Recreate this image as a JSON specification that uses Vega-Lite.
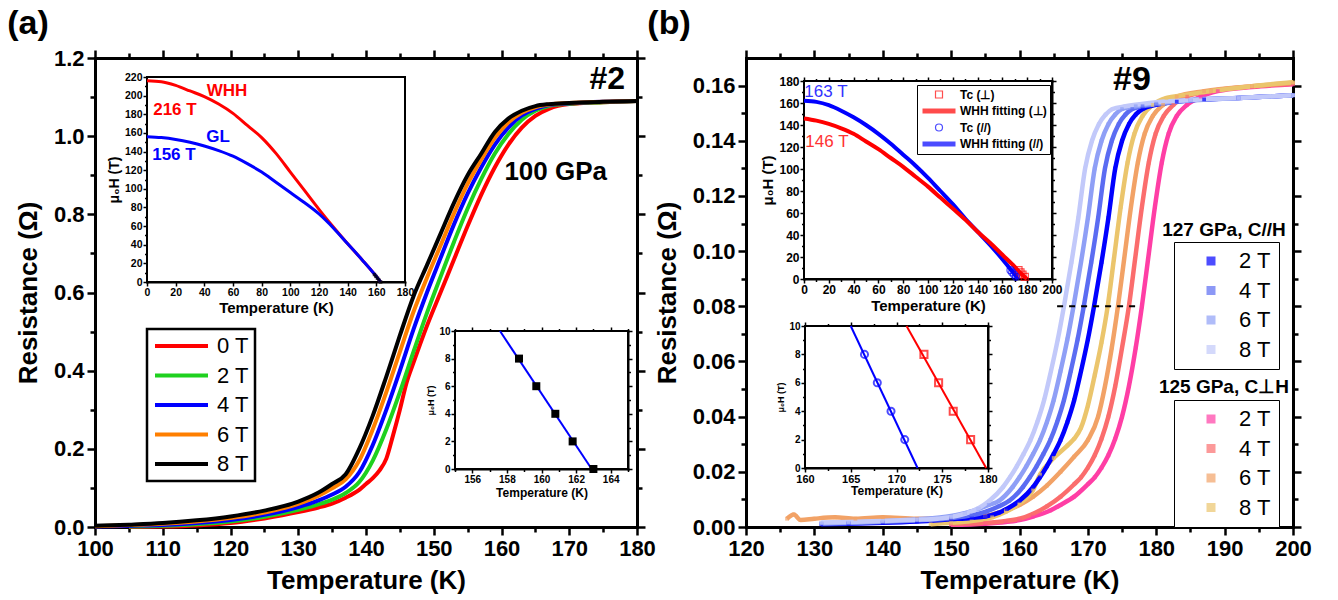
{
"$schema":"https://vega.github.io/schema/vega-lite/v6.json",
"width":1338,"height":600,"autosize":{"type":"none"},"padding":0,"background":"white",
"config":{"view":{"stroke":null},"font":"Liberation Sans",
"axis":{"domainColor":"#000","domainWidth":3,"tickColor":"#000","tickWidth":2.5,"labelColor":"#000","titleColor":"#000","labelFont":"Liberation Sans","titleFont":"Liberation Sans","labelFontWeight":"bold","titleFontWeight":"bold","grid":false,"zindex":1,"labelFlush":false,"labelOverlap":false,"domainCap":"square"},
"legend":{"labelFont":"Liberation Sans","labelColor":"#000"}},
"resolve":{"scale":{"x":"independent","y":"independent","color":"independent","shape":"independent","size":"independent","strokeWidth":"independent"},"axis":{"x":"independent","y":"independent"}},
"datasets":{
"a":[
{"f":"0 T","T":105,"R":0},{"f":"0 T","T":110,"R":0.001},{"f":"0 T","T":115,"R":0.004},{"f":"0 T","T":120,"R":0.01},{"f":"0 T","T":125,"R":0.022},{"f":"0 T","T":130,"R":0.038},{"f":"0 T","T":133,"R":0.05},{"f":"0 T","T":135,"R":0.06},{"f":"0 T","T":137,"R":0.075},{"f":"0 T","T":139,"R":0.095},{"f":"0 T","T":140,"R":0.11},{"f":"0 T","T":141,"R":0.125},{"f":"0 T","T":142,"R":0.145},{"f":"0 T","T":143,"R":0.175},{"f":"0 T","T":144,"R":0.235},{"f":"0 T","T":145,"R":0.3},{"f":"0 T","T":146,"R":0.37},{"f":"0 T","T":147,"R":0.42},{"f":"0 T","T":149,"R":0.515},{"f":"0 T","T":151,"R":0.6},{"f":"0 T","T":153,"R":0.685},{"f":"0 T","T":155,"R":0.77},{"f":"0 T","T":157,"R":0.85},{"f":"0 T","T":159,"R":0.92},{"f":"0 T","T":161,"R":0.978},{"f":"0 T","T":163,"R":1.022},{"f":"0 T","T":165,"R":1.052},{"f":"0 T","T":167,"R":1.07},{"f":"0 T","T":170,"R":1.082},{"f":"0 T","T":175,"R":1.087},{"f":"0 T","T":180,"R":1.09},
{"f":"2 T","T":105,"R":0.001},{"f":"2 T","T":110,"R":0.003},{"f":"2 T","T":115,"R":0.007},{"f":"2 T","T":120,"R":0.014},{"f":"2 T","T":125,"R":0.026},{"f":"2 T","T":130,"R":0.044},{"f":"2 T","T":133,"R":0.058},{"f":"2 T","T":135,"R":0.07},{"f":"2 T","T":137,"R":0.087},{"f":"2 T","T":139,"R":0.115},{"f":"2 T","T":141,"R":0.17},{"f":"2 T","T":143,"R":0.25},{"f":"2 T","T":145,"R":0.345},{"f":"2 T","T":147,"R":0.448},{"f":"2 T","T":149,"R":0.548},{"f":"2 T","T":151,"R":0.64},{"f":"2 T","T":153,"R":0.73},{"f":"2 T","T":155,"R":0.815},{"f":"2 T","T":157,"R":0.89},{"f":"2 T","T":159,"R":0.955},{"f":"2 T","T":161,"R":1.005},{"f":"2 T","T":163,"R":1.042},{"f":"2 T","T":165,"R":1.065},{"f":"2 T","T":167,"R":1.077},{"f":"2 T","T":170,"R":1.083},{"f":"2 T","T":175,"R":1.087},{"f":"2 T","T":180,"R":1.09},
{"f":"4 T","T":100,"R":0.001},{"f":"4 T","T":105,"R":0.003},{"f":"4 T","T":110,"R":0.005},{"f":"4 T","T":115,"R":0.01},{"f":"4 T","T":120,"R":0.018},{"f":"4 T","T":125,"R":0.031},{"f":"4 T","T":130,"R":0.051},{"f":"4 T","T":133,"R":0.068},{"f":"4 T","T":135,"R":0.083},{"f":"4 T","T":137,"R":0.103},{"f":"4 T","T":139,"R":0.14},{"f":"4 T","T":141,"R":0.21},{"f":"4 T","T":143,"R":0.3},{"f":"4 T","T":145,"R":0.4},{"f":"4 T","T":147,"R":0.505},{"f":"4 T","T":149,"R":0.6},{"f":"4 T","T":151,"R":0.688},{"f":"4 T","T":153,"R":0.775},{"f":"4 T","T":155,"R":0.853},{"f":"4 T","T":157,"R":0.92},{"f":"4 T","T":159,"R":0.978},{"f":"4 T","T":161,"R":1.022},{"f":"4 T","T":163,"R":1.053},{"f":"4 T","T":165,"R":1.07},{"f":"4 T","T":167,"R":1.08},{"f":"4 T","T":170,"R":1.084},{"f":"4 T","T":175,"R":1.088},{"f":"4 T","T":180,"R":1.09},
{"f":"6 T","T":100,"R":0.002},{"f":"6 T","T":105,"R":0.005},{"f":"6 T","T":110,"R":0.008},{"f":"6 T","T":115,"R":0.014},{"f":"6 T","T":120,"R":0.023},{"f":"6 T","T":125,"R":0.037},{"f":"6 T","T":130,"R":0.059},{"f":"6 T","T":133,"R":0.08},{"f":"6 T","T":135,"R":0.099},{"f":"6 T","T":137,"R":0.122},{"f":"6 T","T":139,"R":0.17},{"f":"6 T","T":141,"R":0.25},{"f":"6 T","T":143,"R":0.345},{"f":"6 T","T":145,"R":0.448},{"f":"6 T","T":147,"R":0.55},{"f":"6 T","T":149,"R":0.638},{"f":"6 T","T":151,"R":0.72},{"f":"6 T","T":153,"R":0.803},{"f":"6 T","T":155,"R":0.878},{"f":"6 T","T":157,"R":0.94},{"f":"6 T","T":159,"R":0.995},{"f":"6 T","T":161,"R":1.035},{"f":"6 T","T":163,"R":1.06},{"f":"6 T","T":165,"R":1.074},{"f":"6 T","T":167,"R":1.081},{"f":"6 T","T":170,"R":1.085},{"f":"6 T","T":175,"R":1.088},{"f":"6 T","T":180,"R":1.09},
{"f":"8 T","T":100,"R":0.003},{"f":"8 T","T":105,"R":0.006},{"f":"8 T","T":110,"R":0.01},{"f":"8 T","T":115,"R":0.017},{"f":"8 T","T":120,"R":0.027},{"f":"8 T","T":125,"R":0.042},{"f":"8 T","T":130,"R":0.065},{"f":"8 T","T":133,"R":0.088},{"f":"8 T","T":135,"R":0.11},{"f":"8 T","T":137,"R":0.135},{"f":"8 T","T":139,"R":0.2},{"f":"8 T","T":141,"R":0.285},{"f":"8 T","T":143,"R":0.385},{"f":"8 T","T":145,"R":0.49},{"f":"8 T","T":147,"R":0.59},{"f":"8 T","T":149,"R":0.67},{"f":"8 T","T":151,"R":0.75},{"f":"8 T","T":153,"R":0.83},{"f":"8 T","T":155,"R":0.9},{"f":"8 T","T":157,"R":0.955},{"f":"8 T","T":159,"R":1.01},{"f":"8 T","T":161,"R":1.045},{"f":"8 T","T":163,"R":1.065},{"f":"8 T","T":165,"R":1.077},{"f":"8 T","T":167,"R":1.082},{"f":"8 T","T":170,"R":1.085},{"f":"8 T","T":175,"R":1.088},{"f":"8 T","T":180,"R":1.09}
],
"bb":[
{"f":"2 T","T":131,"R":0.001},{"f":"2 T","T":135,"R":0.0012},{"f":"2 T","T":140,"R":0.0015},{"f":"2 T","T":145,"R":0.002},{"f":"2 T","T":150,"R":0.0028},{"f":"2 T","T":153,"R":0.0033},{"f":"2 T","T":155,"R":0.0038},{"f":"2 T","T":157,"R":0.0052},{"f":"2 T","T":158.1,"R":0.0065},{"f":"2 T","T":160,"R":0.0095},{"f":"2 T","T":162,"R":0.0145},{"f":"2 T","T":163,"R":0.018},{"f":"2 T","T":164,"R":0.022},{"f":"2 T","T":165,"R":0.0265},{"f":"2 T","T":166,"R":0.0315},{"f":"2 T","T":167,"R":0.038},{"f":"2 T","T":168,"R":0.046},{"f":"2 T","T":169,"R":0.0565},{"f":"2 T","T":170,"R":0.068},{"f":"2 T","T":170.9,"R":0.08},{"f":"2 T","T":172,"R":0.096},{"f":"2 T","T":173,"R":0.112},{"f":"2 T","T":174,"R":0.13},{"f":"2 T","T":175,"R":0.14},{"f":"2 T","T":176,"R":0.146},{"f":"2 T","T":177,"R":0.1495},{"f":"2 T","T":178,"R":0.1515},{"f":"2 T","T":180,"R":0.153},{"f":"2 T","T":183,"R":0.1542},{"f":"2 T","T":187,"R":0.155},{"f":"2 T","T":192,"R":0.1555},{"f":"2 T","T":200,"R":0.1565},
{"f":"4 T","T":131,"R":0.0012},{"f":"4 T","T":135,"R":0.0014},{"f":"4 T","T":140,"R":0.0018},{"f":"4 T","T":145,"R":0.0024},{"f":"4 T","T":150,"R":0.0032},{"f":"4 T","T":153,"R":0.0042},{"f":"4 T","T":155,"R":0.0055},{"f":"4 T","T":157,"R":0.0075},{"f":"4 T","T":158.5,"R":0.0095},{"f":"4 T","T":160.5,"R":0.0145},{"f":"4 T","T":161.5,"R":0.018},{"f":"4 T","T":162.5,"R":0.022},{"f":"4 T","T":163.5,"R":0.0265},{"f":"4 T","T":164.5,"R":0.0315},{"f":"4 T","T":165.5,"R":0.038},{"f":"4 T","T":166.5,"R":0.046},{"f":"4 T","T":167.5,"R":0.0565},{"f":"4 T","T":168.5,"R":0.068},{"f":"4 T","T":169.4,"R":0.08},{"f":"4 T","T":170.5,"R":0.096},{"f":"4 T","T":171.5,"R":0.112},{"f":"4 T","T":172.5,"R":0.13},{"f":"4 T","T":173.5,"R":0.14},{"f":"4 T","T":174.5,"R":0.146},{"f":"4 T","T":175.5,"R":0.1495},{"f":"4 T","T":176.5,"R":0.1515},{"f":"4 T","T":178,"R":0.1525},{"f":"4 T","T":180,"R":0.1532},{"f":"4 T","T":185,"R":0.1546},{"f":"4 T","T":192,"R":0.1555},{"f":"4 T","T":200,"R":0.1565},
{"f":"6 T","T":131,"R":0.0014},{"f":"6 T","T":135,"R":0.0016},{"f":"6 T","T":140,"R":0.0021},{"f":"6 T","T":145,"R":0.0028},{"f":"6 T","T":150,"R":0.004},{"f":"6 T","T":152,"R":0.005},{"f":"6 T","T":154,"R":0.0066},{"f":"6 T","T":155.5,"R":0.008},{"f":"6 T","T":157,"R":0.0095},{"f":"6 T","T":159,"R":0.0145},{"f":"6 T","T":160,"R":0.018},{"f":"6 T","T":161,"R":0.022},{"f":"6 T","T":162,"R":0.0265},{"f":"6 T","T":163,"R":0.0315},{"f":"6 T","T":164,"R":0.038},{"f":"6 T","T":165,"R":0.046},{"f":"6 T","T":166,"R":0.0565},{"f":"6 T","T":167,"R":0.068},{"f":"6 T","T":167.9,"R":0.08},{"f":"6 T","T":169,"R":0.096},{"f":"6 T","T":170,"R":0.112},{"f":"6 T","T":171,"R":0.13},{"f":"6 T","T":172,"R":0.14},{"f":"6 T","T":173,"R":0.146},{"f":"6 T","T":174,"R":0.1495},{"f":"6 T","T":175,"R":0.1515},{"f":"6 T","T":177,"R":0.1525},{"f":"6 T","T":180,"R":0.1535},{"f":"6 T","T":185,"R":0.1548},{"f":"6 T","T":192,"R":0.1555},{"f":"6 T","T":200,"R":0.1565},
{"f":"8 T","T":131,"R":0.0016},{"f":"8 T","T":135,"R":0.0018},{"f":"8 T","T":140,"R":0.0022},{"f":"8 T","T":145,"R":0.0026},{"f":"8 T","T":148,"R":0.003},{"f":"8 T","T":150,"R":0.0036},{"f":"8 T","T":152,"R":0.0048},{"f":"8 T","T":154,"R":0.0068},{"f":"8 T","T":155.6,"R":0.0095},{"f":"8 T","T":157.6,"R":0.0145},{"f":"8 T","T":158.6,"R":0.018},{"f":"8 T","T":159.6,"R":0.022},{"f":"8 T","T":160.6,"R":0.0265},{"f":"8 T","T":161.6,"R":0.0315},{"f":"8 T","T":162.6,"R":0.038},{"f":"8 T","T":163.6,"R":0.046},{"f":"8 T","T":164.6,"R":0.0565},{"f":"8 T","T":165.6,"R":0.068},{"f":"8 T","T":166.5,"R":0.08},{"f":"8 T","T":167.6,"R":0.096},{"f":"8 T","T":168.6,"R":0.112},{"f":"8 T","T":169.6,"R":0.13},{"f":"8 T","T":170.6,"R":0.14},{"f":"8 T","T":171.6,"R":0.146},{"f":"8 T","T":172.6,"R":0.1495},{"f":"8 T","T":173.6,"R":0.1515},{"f":"8 T","T":175.5,"R":0.1525},{"f":"8 T","T":179,"R":0.1537},{"f":"8 T","T":185,"R":0.1548},{"f":"8 T","T":192,"R":0.1555},{"f":"8 T","T":200,"R":0.1565}
],
"bw":[
{"f":"2 T","T":150,"R":0.0008},{"f":"2 T","T":155,"R":0.0012},{"f":"2 T","T":158,"R":0.0018},{"f":"2 T","T":160,"R":0.0025},{"f":"2 T","T":162,"R":0.0038},{"f":"2 T","T":164.5,"R":0.006},{"f":"2 T","T":166,"R":0.008},{"f":"2 T","T":168,"R":0.011},{"f":"2 T","T":170,"R":0.0155},{"f":"2 T","T":171,"R":0.018},{"f":"2 T","T":172,"R":0.0215},{"f":"2 T","T":173,"R":0.026},{"f":"2 T","T":174,"R":0.032},{"f":"2 T","T":175,"R":0.04},{"f":"2 T","T":176,"R":0.051},{"f":"2 T","T":177,"R":0.065},{"f":"2 T","T":177.9,"R":0.08},{"f":"2 T","T":178.8,"R":0.097},{"f":"2 T","T":179.8,"R":0.116},{"f":"2 T","T":180.8,"R":0.132},{"f":"2 T","T":181.8,"R":0.1425},{"f":"2 T","T":183,"R":0.149},{"f":"2 T","T":184.5,"R":0.153},{"f":"2 T","T":186.5,"R":0.156},{"f":"2 T","T":189,"R":0.158},{"f":"2 T","T":194,"R":0.1595},{"f":"2 T","T":200,"R":0.1605},
{"f":"4 T","T":150,"R":0.001},{"f":"4 T","T":155,"R":0.0015},{"f":"4 T","T":158,"R":0.0022},{"f":"4 T","T":160,"R":0.003},{"f":"4 T","T":162,"R":0.0048},{"f":"4 T","T":164,"R":0.0075},{"f":"4 T","T":166,"R":0.011},{"f":"4 T","T":168,"R":0.0155},{"f":"4 T","T":169,"R":0.018},{"f":"4 T","T":170,"R":0.0215},{"f":"4 T","T":171,"R":0.026},{"f":"4 T","T":172,"R":0.032},{"f":"4 T","T":173,"R":0.04},{"f":"4 T","T":174,"R":0.051},{"f":"4 T","T":175,"R":0.065},{"f":"4 T","T":176,"R":0.08},{"f":"4 T","T":176.9,"R":0.097},{"f":"4 T","T":177.9,"R":0.116},{"f":"4 T","T":178.9,"R":0.132},{"f":"4 T","T":179.9,"R":0.1425},{"f":"4 T","T":181.1,"R":0.149},{"f":"4 T","T":182.5,"R":0.153},{"f":"4 T","T":184.5,"R":0.156},{"f":"4 T","T":188,"R":0.158},{"f":"4 T","T":194,"R":0.1597},{"f":"4 T","T":200,"R":0.1607},
{"f":"6 T","T":126,"R":0.003},{"f":"6 T","T":127,"R":0.0045},{"f":"6 T","T":128,"R":0.0025},{"f":"6 T","T":130,"R":0.003},{"f":"6 T","T":133,"R":0.0035},{"f":"6 T","T":136,"R":0.003},{"f":"6 T","T":140,"R":0.0035},{"f":"6 T","T":145,"R":0.003},{"f":"6 T","T":150,"R":0.003},{"f":"6 T","T":155,"R":0.004},{"f":"6 T","T":158,"R":0.006},{"f":"6 T","T":160,"R":0.008},{"f":"6 T","T":162,"R":0.011},{"f":"6 T","T":164,"R":0.015},{"f":"6 T","T":166,"R":0.02},{"f":"6 T","T":168,"R":0.0255},{"f":"6 T","T":170,"R":0.0315},{"f":"6 T","T":171.5,"R":0.04},{"f":"6 T","T":172.5,"R":0.051},{"f":"6 T","T":173.5,"R":0.065},{"f":"6 T","T":174.4,"R":0.08},{"f":"6 T","T":175.3,"R":0.097},{"f":"6 T","T":176.3,"R":0.116},{"f":"6 T","T":177.3,"R":0.132},{"f":"6 T","T":178.3,"R":0.1425},{"f":"6 T","T":179.5,"R":0.149},{"f":"6 T","T":181,"R":0.153},{"f":"6 T","T":183,"R":0.156},{"f":"6 T","T":187,"R":0.158},{"f":"6 T","T":194,"R":0.1598},{"f":"6 T","T":200,"R":0.161},
{"f":"8 T","T":147,"R":0.001},{"f":"8 T","T":150,"R":0.0015},{"f":"8 T","T":153,"R":0.0022},{"f":"8 T","T":156,"R":0.0035},{"f":"8 T","T":158,"R":0.0055},{"f":"8 T","T":160,"R":0.0085},{"f":"8 T","T":162,"R":0.0135},{"f":"8 T","T":163,"R":0.019},{"f":"8 T","T":165,"R":0.025},{"f":"8 T","T":167,"R":0.0295},{"f":"8 T","T":168,"R":0.032},{"f":"8 T","T":169,"R":0.036},{"f":"8 T","T":170,"R":0.044},{"f":"8 T","T":171,"R":0.055},{"f":"8 T","T":172,"R":0.067},{"f":"8 T","T":172.9,"R":0.08},{"f":"8 T","T":173.8,"R":0.097},{"f":"8 T","T":174.8,"R":0.116},{"f":"8 T","T":175.8,"R":0.132},{"f":"8 T","T":176.8,"R":0.1425},{"f":"8 T","T":178,"R":0.149},{"f":"8 T","T":179.5,"R":0.153},{"f":"8 T","T":181.5,"R":0.1555},{"f":"8 T","T":184,"R":0.1565},{"f":"8 T","T":188,"R":0.158},{"f":"8 T","T":194,"R":0.1598},{"f":"8 T","T":200,"R":0.1612}
]
},
"layer":[
{
"encoding":{
"x":{"field":"T","type":"quantitative","scale":{"domain":[100,180],"range":[95,637],"nice":false,"zero":false},
"axis":{"orient":"bottom","offset":-73,"values":[100,105,110,115,120,125,130,135,140,145,150,155,160,165,170,175,180],"format":"d","labelExpr":"datum.value % 10 === 0 ? datum.label : ''","tickSize":{"condition":{"test":"datum.value % 10 === 0","value":8},"value":5},"labelFontSize":22,"labelPadding":3,"title":"Temperature (K)","titleFontSize":26,"titlePadding":8}},
"y":{"field":"R","type":"quantitative","scale":{"domain":[0,1.2],"range":[527,58],"nice":false,"zero":false},
"axis":{"orient":"left","offset":-95,"values":[0,0.1,0.2,0.3,0.4,0.5,0.6,0.7,0.8,0.9,1.0,1.1,1.2],"format":".1f","labelExpr":"abs(datum.value*5-round(datum.value*5))<0.001 ? datum.label : ''","tickSize":{"condition":{"test":"abs(datum.value*5-round(datum.value*5))<0.001","value":8},"value":5},"labelFontSize":22,"labelPadding":3,"title":"Resistance (Ω)","titleFontSize":26,"titlePadding":12}}
},
"layer":[
{"data":{"name":"a"},"mark":{"type":"line","strokeWidth":4,"interpolate":"monotone"},
"encoding":{"color":{"field":"f","type":"nominal","scale":{"domain":["0 T","2 T","4 T","6 T","8 T"],"range":["#ff0000","#1fd11f","#0000ff","#ff7f00","#000000"]},
"legend":{"orient":"none","legendX":147,"legendY":329,"title":null,"symbolType":"stroke","symbolSize":2809,"symbolStrokeWidth":4,"clipHeight":22,"labelFontSize":22,"labelFontWeight":"normal","labelOffset":7,"padding":6,"rowPadding":7.5,"strokeColor":"black","fillColor":"white","encode":{"legend":{"update":{"strokeWidth":{"value":2.5}}}}}}}},
{"data":{"values":[{"txt":"#2","T":175.6,"R":1.146}]},"mark":{"type":"text","fontSize":32,"fontWeight":"bold","align":"center","baseline":"middle","color":"#000"},"encoding":{"text":{"field":"txt"}}},
{"data":{"values":[{"txt":"100 GPa","T":168.0,"R":0.908}]},"mark":{"type":"text","fontSize":26,"fontWeight":"bold","align":"center","baseline":"middle","color":"#000"},"encoding":{"text":{"field":"txt"}}},
{"data":{"values":[{"txt":"(a)","T":90.1,"R":1.287}]},"mark":{"type":"text","fontSize":34,"fontWeight":"bold","align":"center","baseline":"middle","color":"#000"},"encoding":{"text":{"field":"txt"}}}
]
},
{
"data":{"values":[{"T":100,"R":0}]},"mark":{"type":"point","opacity":0},
"encoding":{
"x":{"field":"T","type":"quantitative","scale":{"domain":[100,180],"range":[95,637],"nice":false,"zero":false},
"axis":{"orient":"top","offset":-58,"values":[100,105,110,115,120,125,130,135,140,145,150,155,160,165,170,175,180],"labels":false,"title":null,"tickSize":{"condition":{"test":"datum.value % 10 === 0","value":8},"value":5}}},
"y":{"field":"R","type":"quantitative","scale":{"domain":[0,1.2],"range":[527,58],"nice":false,"zero":false},
"axis":{"orient":"right","offset":-701,"values":[0,0.1,0.2,0.3,0.4,0.5,0.6,0.7,0.8,0.9,1.0,1.1,1.2],"labels":false,"title":null,"tickSize":{"condition":{"test":"abs(datum.value*5-round(datum.value*5))<0.001","value":8},"value":5}}}
}
},
{
"encoding":{
"x":{"field":"T","type":"quantitative","scale":{"domain":[120,200],"range":[746,1293],"nice":false,"zero":false},
"axis":{"orient":"bottom","offset":-73,"values":[120,125,130,135,140,145,150,155,160,165,170,175,180,185,190,195,200],"format":"d","labelExpr":"datum.value % 10 === 0 ? datum.label : ''","tickSize":{"condition":{"test":"datum.value % 10 === 0","value":8},"value":5},"labelFontSize":22,"labelPadding":3,"title":"Temperature (K)","titleFontSize":26,"titlePadding":8}},
"y":{"field":"R","type":"quantitative","scale":{"domain":[0,0.17],"range":[527,58],"nice":false,"zero":false},
"axis":{"orient":"left","offset":-746,"values":[0,0.01,0.02,0.03,0.04,0.05,0.06,0.07,0.08,0.09,0.1,0.11,0.12,0.13,0.14,0.15,0.16],"format":".2f","labelExpr":"abs(datum.value*50-round(datum.value*50))<0.001 ? datum.label : ''","tickSize":{"condition":{"test":"abs(datum.value*50-round(datum.value*50))<0.001","value":8},"value":5},"labelFontSize":22,"labelPadding":3,"title":"Resistance (Ω)","titleFontSize":26,"titlePadding":12}}
},
"resolve":{"scale":{"color":"independent"}},
"layer":[
{"data":{"name":"bw"},"mark":{"type":"line","strokeWidth":4.5,"interpolate":"monotone"},"encoding":{"color":{"field":"f","type":"nominal","scale":{"domain":["2 T","4 T","6 T","8 T"],"range":["#ff3ea5","#fb6d6d","#f2a266","#ebc56c"]},"legend":null}}},
{"data":{"name":"bb"},"mark":{"type":"line","strokeWidth":4.5,"interpolate":"monotone"},"encoding":{"color":{"field":"f","type":"nominal","scale":{"domain":["2 T","4 T","6 T","8 T"],"range":["#0000ff","#5b6cf2","#8f9ff6","#c2c9fa"]},"legend":null}}},
{"data":{"name":"bw"},"mark":{"type":"square","size":14},"encoding":{"color":{"field":"f","type":"nominal","scale":{"domain":["2 T","4 T","6 T","8 T"],"range":["#ff3ea5","#fb6d6d","#f2a266","#ebc56c"]},
"legend":{"orient":"none","legendX":1174,"legendY":400,"title":null,"symbolType":"square","symbolSize":81,"symbolStrokeWidth":0,"symbolOffset":18,"labelOffset":17,"clipHeight":22,"labelFontSize":22,"labelFontWeight":"normal","padding":8,"rowPadding":7.5,"strokeColor":"black","fillColor":"white","encode":{"legend":{"update":{"strokeWidth":{"value":2.5}}}}}}}},
{"data":{"name":"bb"},"mark":{"type":"square","size":14},"encoding":{"color":{"field":"f","type":"nominal","scale":{"domain":["2 T","4 T","6 T","8 T"],"range":["#0000ff","#5b6cf2","#8f9ff6","#c2c9fa"]},
"legend":{"orient":"none","legendX":1174,"legendY":242,"title":null,"symbolType":"square","symbolSize":81,"symbolStrokeWidth":0,"symbolOffset":18,"labelOffset":17,"clipHeight":22,"labelFontSize":22,"labelFontWeight":"normal","padding":8,"rowPadding":7.5,"strokeColor":"black","fillColor":"white","encode":{"legend":{"update":{"strokeWidth":{"value":2.5}}}}}}}},
{"data":{"values":[{"T":165.5,"T2":177.5,"R":0.08}]},"mark":{"type":"rule","strokeDash":[6,6],"strokeWidth":2,"color":"#000"},"encoding":{"x2":{"field":"T2"}}},
{"data":{"values":[{"txt":"#9","T":176.45,"R":0.162}]},"mark":{"type":"text","fontSize":34,"fontWeight":"bold","align":"center","baseline":"middle","color":"#000"},"encoding":{"text":{"field":"txt"}}},
{"data":{"values":[{"txt":"127 GPa, C//H","T":189.9,"R":0.1077},{"txt":"125 GPa, C⊥H","T":189.9,"R":0.0508}]},"mark":{"type":"text","fontSize":19,"fontWeight":"bold","align":"center","baseline":"middle","color":"#000"},"encoding":{"text":{"field":"txt"}}},
{"data":{"values":[{"txt":"(b)","T":108.74,"R":0.1823}]},"mark":{"type":"text","fontSize":34,"fontWeight":"bold","align":"center","baseline":"middle","color":"#000"},"encoding":{"text":{"field":"txt"}}}
]
},
{
"data":{"values":[{"T":120,"R":0}]},"mark":{"type":"point","opacity":0},
"encoding":{
"x":{"field":"T","type":"quantitative","scale":{"domain":[120,200],"range":[746,1293],"nice":false,"zero":false},
"axis":{"orient":"top","offset":-58,"values":[120,125,130,135,140,145,150,155,160,165,170,175,180,185,190,195,200],"labels":false,"title":null,"tickSize":{"condition":{"test":"datum.value % 10 === 0","value":8},"value":5}}},
"y":{"field":"R","type":"quantitative","scale":{"domain":[0,0.17],"range":[527,58],"nice":false,"zero":false},
"axis":{"orient":"right","offset":-45,"values":[0,0.01,0.02,0.03,0.04,0.05,0.06,0.07,0.08,0.09,0.1,0.11,0.12,0.13,0.14,0.15,0.16],"labels":false,"title":null,"tickSize":{"condition":{"test":"abs(datum.value*50-round(datum.value*50))<0.001","value":8},"value":5}}}
}
},
{
"data":{"values":[{"T":0,"T2":180,"H":0,"H2":220}]},"mark":{"type":"rect","fill":"white","stroke":"black","strokeWidth":2},
"encoding":{
"x":{"field":"T","type":"quantitative","scale":{"domain":[0,180],"range":[147,405],"nice":false,"zero":false},"axis":null},
"x2":{"field":"T2"},
"y":{"field":"H","type":"quantitative","scale":{"domain":[0,220],"range":[282,77],"nice":false,"zero":false},"axis":null},
"y2":{"field":"H2"}
}
},
{
"encoding":{
"x":{"field":"T","type":"quantitative","scale":{"domain":[0,180],"range":[147,405],"nice":false,"zero":false},
"axis":{"orient":"bottom","offset":-318,"values":[0,20,40,60,80,100,120,140,160,180],"domainWidth":2,"tickWidth":1.5,"tickSize":4,"labelFontSize":10.5,"labelPadding":1,"title":"Temperature (K)","titleFontSize":15,"titlePadding":3}},
"y":{"field":"H","type":"quantitative","scale":{"domain":[0,220],"range":[282,77],"nice":false,"zero":false},
"axis":{"orient":"left","offset":-147,"values":[0,10,20,30,40,50,60,70,80,90,100,110,120,130,140,150,160,170,180,190,200,210,220],"labelExpr":"datum.value % 20 === 0 ? datum.label : ''","domainWidth":2,"tickWidth":1.5,"tickSize":{"condition":{"test":"datum.value % 20 === 0","value":4},"value":2.5},"labelFontSize":10.5,"labelPadding":1,"title":"μ₀H (T)","titleFontSize":14,"titlePadding":3}}
},
"layer":[
{"data":{"values":[{"T":0,"H":216},{"T":10,"H":215},{"T":20,"H":211},{"T":30,"H":205},{"T":40,"H":199},{"T":50,"H":191},{"T":60,"H":181},{"T":70,"H":168},{"T":80,"H":155},{"T":90,"H":138},{"T":100,"H":118},{"T":110,"H":98},{"T":120,"H":78},{"T":130,"H":59},{"T":140,"H":41},{"T":150,"H":24},{"T":160,"H":6},{"T":163,"H":0}]},"mark":{"type":"line","color":"#ff0000","strokeWidth":3,"interpolate":"monotone"}},
{"data":{"values":[{"T":0,"H":156},{"T":10,"H":155},{"T":20,"H":153},{"T":30,"H":150},{"T":40,"H":146},{"T":50,"H":141},{"T":60,"H":135},{"T":70,"H":127},{"T":80,"H":118},{"T":90,"H":107},{"T":100,"H":96},{"T":110,"H":85},{"T":120,"H":73},{"T":130,"H":58},{"T":140,"H":41},{"T":150,"H":24},{"T":160,"H":6},{"T":163,"H":0}]},"mark":{"type":"line","color":"#0000ff","strokeWidth":3,"interpolate":"monotone"}},
{"data":{"values":[{"T":158.7,"H":8},{"T":159.7,"H":6},{"T":160.8,"H":4},{"T":161.8,"H":2},{"T":163,"H":0}]},"mark":{"type":"square","color":"#000","size":12}},
{"data":{"values":[{"txt":"WHH","T":55.8,"H":205},{"txt":"216 T","T":19.5,"H":184.6}]},"mark":{"type":"text","fontSize":17,"fontWeight":"bold","align":"center","baseline":"middle","color":"#ff0000"},"encoding":{"text":{"field":"txt"}}},
{"data":{"values":[{"txt":"GL","T":49.5,"H":155.6},{"txt":"156 T","T":18.8,"H":136.3}]},"mark":{"type":"text","fontSize":17,"fontWeight":"bold","align":"center","baseline":"middle","color":"#0000ff"},"encoding":{"text":{"field":"txt"}}}
]
},
{
"data":{"values":[{"T":155,"T2":165,"H":0,"H2":10}]},"mark":{"type":"rect","fill":"white","stroke":"black","strokeWidth":2},
"encoding":{
"x":{"field":"T","type":"quantitative","scale":{"domain":[155,165],"range":[455,628],"nice":false,"zero":false},"axis":{"orient":"top","offset":-331,"values":[155,156,157,158,159,160,161,162,163,164,165],"labels":false,"title":null,"domainWidth":2,"tickWidth":1.5,"tickSize":{"condition":{"test":"datum.value % 2 === 0","value":4},"value":2.5}}},
"x2":{"field":"T2"},
"y":{"field":"H","type":"quantitative","scale":{"domain":[0,10],"range":[469,331],"nice":false,"zero":false},"axis":{"orient":"right","offset":-710,"values":[0,1,2,3,4,5,6,7,8,9,10],"labels":false,"title":null,"domainWidth":2,"tickWidth":1.5,"tickSize":{"condition":{"test":"datum.value % 2 === 0","value":4},"value":2.5}}},
"y2":{"field":"H2"}
}
},
{
"encoding":{
"x":{"field":"T","type":"quantitative","scale":{"domain":[155,165],"range":[455,628],"nice":false,"zero":false},
"axis":{"orient":"bottom","offset":-131,"values":[155,156,157,158,159,160,161,162,163,164,165],"labelExpr":"datum.value % 2 === 0 ? datum.label : ''","domainWidth":2,"tickWidth":1.5,"tickSize":{"condition":{"test":"datum.value % 2 === 0","value":4},"value":2.5},"labelFontSize":10,"labelPadding":1,"title":"Temperature (K)","titleFontSize":12,"titlePadding":3}},
"y":{"field":"H","type":"quantitative","scale":{"domain":[0,10],"range":[469,331],"nice":false,"zero":false},
"axis":{"orient":"left","offset":-455,"values":[0,1,2,3,4,5,6,7,8,9,10],"labelExpr":"datum.value % 2 === 0 ? datum.label : ''","domainWidth":2,"tickWidth":1.5,"tickSize":{"condition":{"test":"datum.value % 2 === 0","value":4},"value":2.5},"labelFontSize":10,"labelPadding":1,"title":"μ₀H (T)","titleFontSize":9,"titlePadding":3}}
},
"layer":[
{"data":{"values":[{"T":157.6,"H":10},{"T":162.9,"H":0}]},"mark":{"type":"line","color":"#0000ff","strokeWidth":2}},
{"data":{"values":[{"T":158.7,"H":8},{"T":159.7,"H":6},{"T":160.8,"H":4},{"T":161.8,"H":2},{"T":163,"H":0}]},"mark":{"type":"square","color":"#000","size":64,"opacity":1}}
]
},
{
"data":{"values":[{"T":0,"T2":200,"H":0,"H2":180}]},"mark":{"type":"rect","fill":"white","stroke":"black","strokeWidth":2},
"encoding":{
"x":{"field":"T","type":"quantitative","scale":{"domain":[0,200],"range":[804,1052],"nice":false,"zero":false},"axis":{"orient":"top","offset":-81,"values":[0,10,20,30,40,50,60,70,80,90,100,110,120,130,140,150,160,170,180,190,200],"labels":false,"title":null,"domainWidth":2,"tickWidth":1.5,"tickSize":{"condition":{"test":"datum.value % 20 === 0","value":4},"value":2.5}}},
"x2":{"field":"T2"},
"y":{"field":"H","type":"quantitative","scale":{"domain":[0,180],"range":[279,81],"nice":false,"zero":false},"axis":{"orient":"right","offset":-286,"values":[0,10,20,30,40,50,60,70,80,90,100,110,120,130,140,150,160,170,180],"labels":false,"title":null,"domainWidth":2,"tickWidth":1.5,"tickSize":{"condition":{"test":"datum.value % 20 === 0","value":4},"value":2.5}}},
"y2":{"field":"H2"}
}
},
{
"encoding":{
"x":{"field":"T","type":"quantitative","scale":{"domain":[0,200],"range":[804,1052],"nice":false,"zero":false},
"axis":{"orient":"bottom","offset":-321,"values":[0,10,20,30,40,50,60,70,80,90,100,110,120,130,140,150,160,170,180,190,200],"labelExpr":"datum.value % 20 === 0 ? datum.label : ''","domainWidth":2,"tickWidth":1.5,"tickSize":{"condition":{"test":"datum.value % 20 === 0","value":4},"value":2.5},"labelFontSize":12,"labelPadding":1,"title":"Temperature (K)","titleFontSize":15,"titlePadding":3}},
"y":{"field":"H","type":"quantitative","scale":{"domain":[0,180],"range":[279,81],"nice":false,"zero":false},
"axis":{"orient":"left","offset":-804,"values":[0,10,20,30,40,50,60,70,80,90,100,110,120,130,140,150,160,170,180],"labelExpr":"datum.value % 20 === 0 ? datum.label : ''","domainWidth":2,"tickWidth":1.5,"tickSize":{"condition":{"test":"datum.value % 20 === 0","value":4},"value":2.5},"labelFontSize":12,"labelPadding":1,"title":"μ₀H (T)","titleFontSize":15,"titlePadding":3}}
},
"layer":[
{"data":{"values":[{"T":0,"H":162},{"T":10,"H":161},{"T":20,"H":158},{"T":30,"H":153},{"T":40,"H":147},{"T":50,"H":140},{"T":60,"H":132},{"T":70,"H":123},{"T":80,"H":113},{"T":90,"H":103},{"T":100,"H":92},{"T":110,"H":80},{"T":120,"H":68},{"T":130,"H":55},{"T":140,"H":43},{"T":150,"H":31},{"T":160,"H":18},{"T":165,"H":11},{"T":170,"H":4},{"T":172.3,"H":0}]},"mark":{"type":"line","color":"#0000ff","strokeWidth":4,"interpolate":"monotone"}},
{"data":{"values":[{"T":0,"H":146},{"T":10,"H":144},{"T":20,"H":141},{"T":30,"H":137},{"T":40,"H":132},{"T":50,"H":125},{"T":60,"H":118},{"T":70,"H":110},{"T":80,"H":102},{"T":90,"H":93},{"T":100,"H":84},{"T":110,"H":74},{"T":120,"H":64},{"T":130,"H":54},{"T":140,"H":43},{"T":150,"H":33},{"T":160,"H":22},{"T":170,"H":11},{"T":175,"H":5},{"T":179.8,"H":0}]},"mark":{"type":"line","color":"#ff0000","strokeWidth":4,"interpolate":"monotone"}},
{"data":{"values":[{"s":"Tc (⊥)","T":173,"H":8},{"s":"Tc (⊥)","T":174.6,"H":6},{"s":"Tc (⊥)","T":176.2,"H":4},{"s":"Tc (⊥)","T":178.1,"H":2},{"s":"Tc (//)","T":166.5,"H":8},{"s":"Tc (//)","T":167.9,"H":6},{"s":"Tc (//)","T":169.4,"H":4},{"s":"Tc (//)","T":170.9,"H":2}]},
"mark":{"type":"point","filled":false},
"encoding":{
"color":{"field":"s","type":"nominal","scale":{"domain":["Tc (⊥)","WHH fitting (⊥)","Tc (//)","WHH fitting (//)"],"range":["#ff0000","#ff0000","#0000ff","#0000ff"]},"legend":{"orient":"none","legendX":917,"legendY":85,"title":null,"clipHeight":13,"labelFontSize":12,"labelFontWeight":"bold","labelOffset":2,"padding":3,"rowPadding":3.5,"strokeColor":"black","fillColor":"white","encode":{"legend":{"update":{"strokeWidth":{"value":1.5}}}}}},
"shape":{"field":"s","type":"nominal","scale":{"domain":["Tc (⊥)","WHH fitting (⊥)","Tc (//)","WHH fitting (//)"],"range":["square","stroke","circle","stroke"]},"legend":{"orient":"none","legendX":917,"legendY":85,"title":null,"clipHeight":13,"labelFontSize":12,"labelFontWeight":"bold","labelOffset":2,"padding":3,"rowPadding":3.5,"strokeColor":"black","fillColor":"white"}},
"size":{"field":"s","type":"nominal","scale":{"type":"ordinal","domain":["Tc (⊥)","WHH fitting (⊥)","Tc (//)","WHH fitting (//)"],"range":[49,1089,49,1089]},"legend":{"orient":"none","legendX":917,"legendY":85,"title":null,"clipHeight":13,"labelFontSize":12,"labelFontWeight":"bold","labelOffset":2,"padding":3,"rowPadding":3.5,"strokeColor":"black","fillColor":"white"}},
"strokeWidth":{"field":"s","type":"nominal","scale":{"type":"ordinal","domain":["Tc (⊥)","WHH fitting (⊥)","Tc (//)","WHH fitting (//)"],"range":[1.2,5,1.2,5]},"legend":{"orient":"none","legendX":917,"legendY":85,"title":null,"clipHeight":13,"labelFontSize":12,"labelFontWeight":"bold","labelOffset":2,"padding":3,"rowPadding":3.5,"strokeColor":"black","fillColor":"white"}}
}},
{"data":{"values":[{"txt":"163 T","T":17.7,"H":170}]},"mark":{"type":"text","fontSize":17,"align":"center","baseline":"middle","color":"#3333ff"},"encoding":{"text":{"field":"txt"}}},
{"data":{"values":[{"txt":"146 T","T":18.5,"H":124.5}]},"mark":{"type":"text","fontSize":17,"align":"center","baseline":"middle","color":"#ff3333"},"encoding":{"text":{"field":"txt"}}}
]
},
{
"data":{"values":[{"T":160,"T2":180,"H":0,"H2":10}]},"mark":{"type":"rect","fill":"white","stroke":"black","strokeWidth":2},
"encoding":{
"x":{"field":"T","type":"quantitative","scale":{"domain":[160,180],"range":[805,988],"nice":false,"zero":false},"axis":{"orient":"top","offset":-326,"values":[160,162.5,165,167.5,170,172.5,175,177.5,180],"labels":false,"title":null,"domainWidth":2,"tickWidth":1.5,"tickSize":{"condition":{"test":"datum.value % 5 === 0","value":4},"value":2.5}}},
"x2":{"field":"T2"},
"y":{"field":"H","type":"quantitative","scale":{"domain":[0,10],"range":[468,326],"nice":false,"zero":false},"axis":{"orient":"right","offset":-350,"values":[0,1,2,3,4,5,6,7,8,9,10],"labels":false,"title":null,"domainWidth":2,"tickWidth":1.5,"tickSize":{"condition":{"test":"datum.value % 2 === 0","value":4},"value":2.5}}},
"y2":{"field":"H2"}
}
},
{
"encoding":{
"x":{"field":"T","type":"quantitative","scale":{"domain":[160,180],"range":[805,988],"nice":false,"zero":false},
"axis":{"orient":"bottom","offset":-132,"values":[160,162.5,165,167.5,170,172.5,175,177.5,180],"labelExpr":"datum.value % 5 === 0 ? datum.label : ''","domainWidth":2,"tickWidth":1.5,"tickSize":{"condition":{"test":"datum.value % 5 === 0","value":4},"value":2.5},"labelFontSize":11,"labelPadding":1,"title":"Temperature (K)","titleFontSize":12,"titlePadding":1}},
"y":{"field":"H","type":"quantitative","scale":{"domain":[0,10],"range":[468,326],"nice":false,"zero":false},
"axis":{"orient":"left","offset":-805,"values":[0,1,2,3,4,5,6,7,8,9,10],"labelExpr":"datum.value % 2 === 0 ? datum.label : ''","domainWidth":2,"tickWidth":1.5,"tickSize":{"condition":{"test":"datum.value % 2 === 0","value":4},"value":2.5},"labelFontSize":10,"labelPadding":1,"title":"μ₀H (T)","titleFontSize":9,"titlePadding":3}}
},
"layer":[
{"data":{"values":[{"T":165,"H":10},{"T":172.3,"H":0}]},"mark":{"type":"line","color":"#0000ff","strokeWidth":2}},
{"data":{"values":[{"T":171.1,"H":10},{"T":179.8,"H":0}]},"mark":{"type":"line","color":"#ff0000","strokeWidth":2}},
{"data":{"values":[{"T":166.5,"H":8},{"T":167.9,"H":6},{"T":169.4,"H":4},{"T":170.9,"H":2}]},"mark":{"type":"point","shape":"circle","filled":false,"color":"#0000ff","size":50,"strokeWidth":2}},
{"data":{"values":[{"T":173.0,"H":8},{"T":174.6,"H":6},{"T":176.2,"H":4},{"T":178.1,"H":2}]},"mark":{"type":"point","shape":"square","filled":false,"color":"#ff0000","size":50,"strokeWidth":2}}
]
}
]
}
